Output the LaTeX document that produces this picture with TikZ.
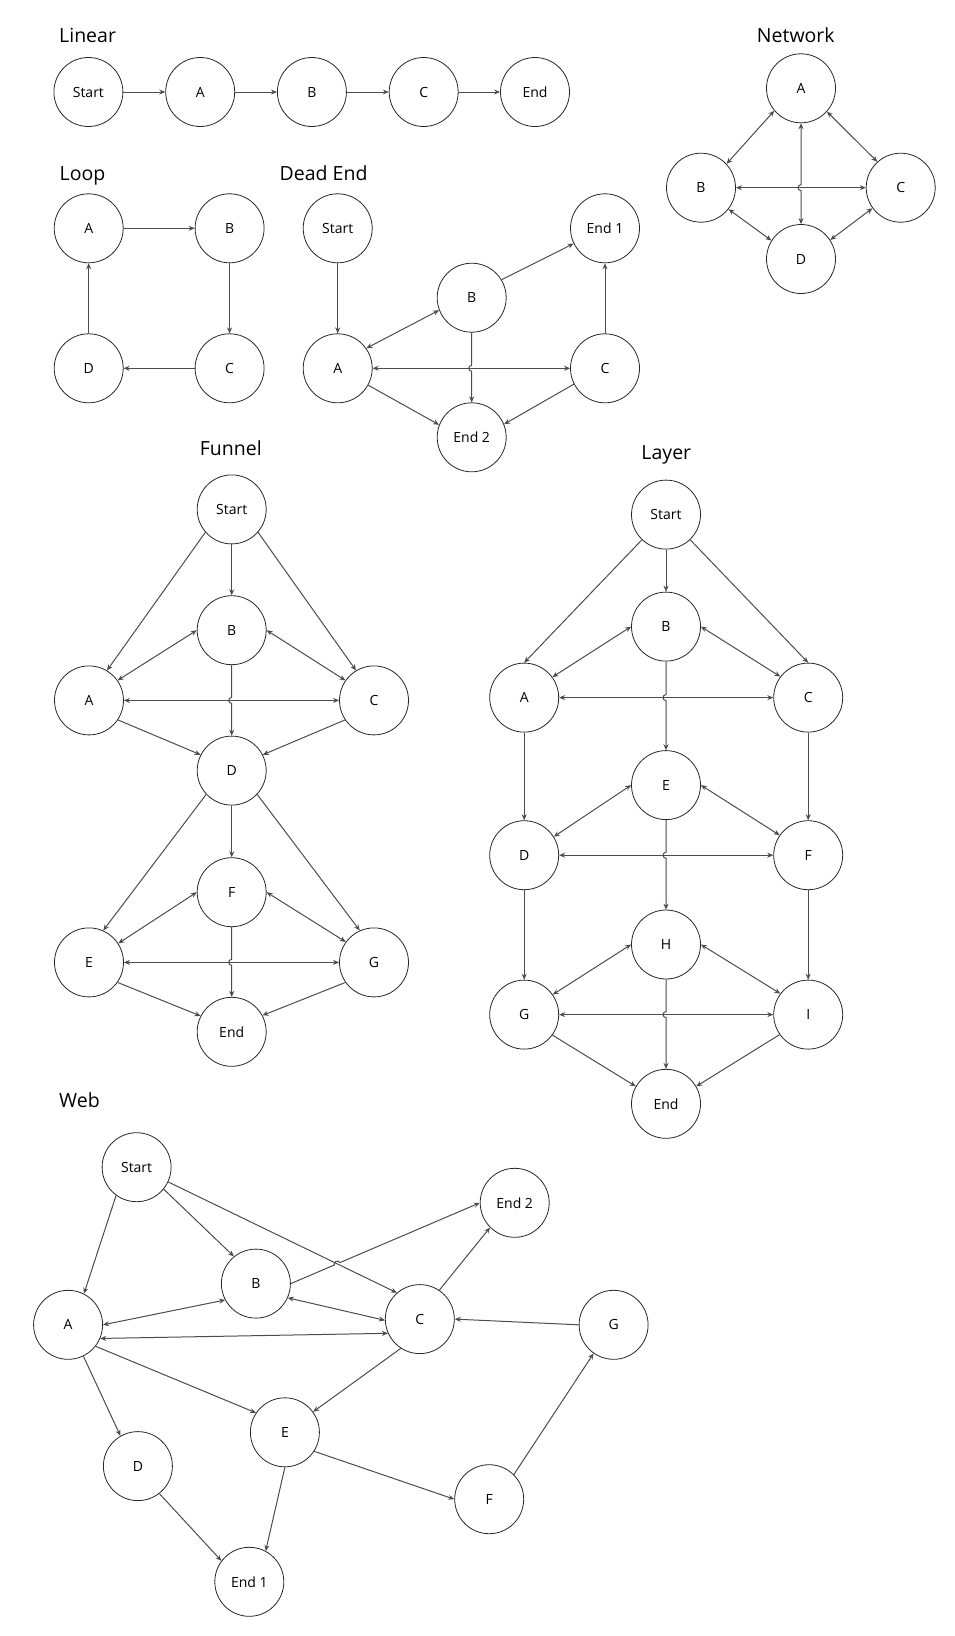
\documentclass[tikz,border=0pt]{standalone}
\usepackage{fontspec}
\setmainfont{Open Sans}
\usetikzlibrary{arrows.meta,calc,intersections}

\begin{document}
\begin{tikzpicture}[x=1pt,y=1pt,>={Stealth[length=6pt,width=5pt]},
                    main node/.style={circle,draw=black!85,line width=0.8pt,minimum size=69pt,inner sep=0pt,
                                      font=\fontsize{14}{17}\selectfont},
                    group title/.style={anchor=base west,inner sep=0pt,font=\fontsize{19.5}{23}\selectfont},
                    link/.style={draw=black!70,line width=1pt,->},
                    links/.style={every edge/.append style={link}}]
  \useasboundingbox (0,0) rectangle (954,-1636);

  % Linear
  \node[group title] (linT) at (59,-42) {Linear};
  \node[main node] (linS) at (88.4,-92) {Start};
  \node[main node] (linA) at (200.2,-92) {A};
  \node[main node] (linB) at (311.9,-92) {B};
  \node[main node] (linC) at (423.7,-92) {C};
  \node[main node] (linE) at (535,-92) {End};
  \path[links]
    (linS) edge (linA)
    (linA) edge (linB)
    (linB) edge (linC)
    (linC) edge (linE);

  % Network
  \node[group title,anchor=base] (netT) at (795.8,-42) {Network};
  \node[main node] (netA) at (801,-88.3) {A};
  \node[main node] (netB) at (701,-187.7) {B};
  \node[main node] (netC) at (900.7,-187.7) {C};
  \node[main node] (netD) at (801,-259) {D};
  \path[links]
    (netA.220) edge[<->] (netB.43)
    (netA.-42) edge[<->] (netC.132)
    (netB) edge[<->] (netC)
    (netB.-38) edge[<->] (netD.148)
    (netC.216) edge[<->] (netD.33);
  \draw[link,<->] (netA) -- ($(netA |- netB)+(0,3)$) arc[start angle=90,end angle=270,radius=3pt] -- (netD);

  % Loop
  \node[group title] (loopT) at (59.5,-180) {Loop};
  \node[main node] (loopA) at (88.7,-228.3) {A};
  \node[main node] (loopB) at (229.6,-228.3) {B};
  \node[main node] (loopC) at (229.6,-368.3) {C};
  \node[main node] (loopD) at (88.7,-368.3) {D};
  \path[links]
    (loopA) edge (loopB)
    (loopB) edge (loopC)
    (loopC) edge (loopD)
    (loopD) edge (loopA);

  % Dead End
  \node[group title] (deadT) at (279.5,-180) {Dead End};
  \node[main node] (deadS) at (337.7,-228.3) {Start};
  \node[main node] (deadE1) at (605,-228.3) {End 1};
  \node[main node] (deadB) at (471.7,-297.7) {B};
  \node[main node] (deadA) at (337.7,-368.3) {A};
  \node[main node] (deadC) at (605,-368.3) {C};
  \node[main node] (deadE2) at (471.7,-437.3) {End 2};
  \path[links]
    (deadS) edge (deadA)
    (deadA.35) edge[<->] (deadB.201)
    (deadA) edge[<->] (deadC)
    (deadB.31) edge (deadE1.206)
    (deadC) edge (deadE1)
    (deadA.-29) edge (deadE2.159)
    (deadC.207) edge (deadE2.22);
  \draw[link] (deadB) -- ($(deadB |- deadA)+(0,3)$) arc[start angle=90,end angle=270,radius=3pt] -- (deadE2);

  % Funnel
  \node[group title,anchor=base] (funT) at (230.8,-455.5) {Funnel};
  \node[main node] (funS) at (231.7,-509.4) {Start};
  \node[main node] (funB) at (231.7,-630.2) {B};
  \node[main node] (funA) at (89,-700.4) {A};
  \node[main node] (funC) at (374,-700.4) {C};
  \node[main node] (funD) at (231.7,-770.6) {D};
  \node[main node] (funF) at (231.7,-892.2) {F};
  \node[main node] (funE) at (89,-962.4) {E};
  \node[main node] (funG) at (374,-962.4) {G};
  \node[main node] (funEnd) at (231.7,-1031.8) {End};
  \path[links]
    (funS.221.5) edge (funA.59)
    (funS) edge (funB)
    (funS.-41.5) edge (funC.121)
    (funA.35) edge[<->] (funB.west)
    (funB.east) edge[<->] (funC.145)
    (funA) edge[<->] (funC)
    (funA.-34) edge (funD.153)
    (funC.214) edge (funD.27)
    (funD.223.5) edge (funE.66)
    (funD) edge (funF)
    (funD.-43.5) edge (funG.114)
    (funE.33) edge[<->] (funF.west)
    (funF.east) edge[<->] (funG.144)
    (funE) edge[<->] (funG)
    (funE.-35) edge (funEnd.153)
    (funG.215) edge (funEnd.28);
  \draw[link] (funB) -- ($(funB |- funA)+(0,3)$) arc[start angle=90,end angle=270,radius=3pt] -- (funD);
  \draw[link] (funF) -- ($(funF |- funE)+(0,3)$) arc[start angle=90,end angle=270,radius=3pt] -- (funEnd);

  % Layer
  \node[group title,anchor=base] (layT) at (666.3,-459) {Layer};
  \node[main node] (layS) at (666,-514.6) {Start};
  \node[main node] (layB) at (666,-626.6) {B};
  \node[main node] (layA) at (524.2,-697.6) {A};
  \node[main node] (layC) at (808.2,-697.6) {C};
  \node[main node] (layE) at (666,-785.1) {E};
  \node[main node] (layD) at (524.2,-855.2) {D};
  \node[main node] (layF) at (808.2,-855.2) {F};
  \node[main node] (layH) at (666,-944.5) {H};
  \node[main node] (layG) at (524.2,-1014.6) {G};
  \node[main node] (layI) at (808.2,-1014.6) {I};
  \node[main node] (layEnd) at (666,-1103.8) {End};
  \path[links]
    (layS) edge (layA.north)
    (layS) edge (layB)
    (layS) edge (layC.north)
    (layA.36) edge[<->] (layB.west)
    (layB.east) edge[<->] (layC.143)
    (layA) edge[<->] (layC)
    (layA) edge (layD)
    (layC) edge (layF)
    (layE.west) edge[<->] (layD.32)
    (layE.east) edge[<->] (layF.145)
    (layD) edge[<->] (layF)
    (layD) edge (layG)
    (layF) edge (layI)
    (layH.west) edge[<->] (layG.35)
    (layH.east) edge[<->] (layI.143)
    (layG) edge[<->] (layI)
    (layG.-36) edge (layEnd.150)
    (layI.215) edge (layEnd.30);
  \draw[link] (layB) -- ($(layB |- layA)+(0,3)$) arc[start angle=90,end angle=270,radius=3pt] -- (layE);
  \draw[link] (layE) -- ($(layE |- layD)+(0,3)$) arc[start angle=90,end angle=270,radius=3pt] -- (layH);
  \draw[link] (layH) -- ($(layH |- layG)+(0,3)$) arc[start angle=90,end angle=270,radius=3pt] -- (layEnd);

  % Web
  \node[group title] (webT) at (59,-1107.5) {Web};
  \node[main node] (webS) at (136.6,-1167.2) {Start};
  \node[main node] (webE2) at (514.7,-1202.8) {End 2};
  \node[main node] (webB) at (255.9,-1283.6) {B};
  \node[main node] (webA) at (68.1,-1324.8) {A};
  \node[main node] (webC) at (419.8,-1319.1) {C};
  \node[main node] (webG) at (613.6,-1324.8) {G};
  \node[main node] (webE) at (284.9,-1432.3) {E};
  \node[main node] (webD) at (137.9,-1466.1) {D};
  \node[main node] (webF) at (489.2,-1499.2) {F};
  \node[main node] (webE1) at (249.3,-1581.8) {End 1};
  \path[links]
    (webS.234) edge (webA.63.5)
    (webS.-39) edge (webB.129)
    (webA.east) edge[<->] (webB.208)
    (webB.-24) edge[<->] (webC.182)
    (webA.-23) edge[<->] (webC.204)
    (webC.56) edge (webE2.225)
    (webG.west) edge (webC.east)
    (webC.237) edge (webE.36)
    (webA.-38) edge (webE.146)
    (webA.-64.5) edge (webD.120.5)
    (webE.-33) edge (webF.west)
    (webE.south) edge (webE1.62)
    (webD.-52) edge (webE1.143)
    (webF.45) edge (webG.235);
  \draw[link,name path=webSC] (webS.-25) -- (webC.131);
  \path[name path=webBE] (webB.east) -- (webE2.west);
  \draw[link,name intersections={of=webSC and webBE,by=webX}]
    (webB.east) -- ($(webX)!3pt!(webB.east)$) to[bend left=90,looseness=1.5] ($(webX)!3pt!(webE2.west)$) -- (webE2.west);
\end{tikzpicture}
\end{document}
